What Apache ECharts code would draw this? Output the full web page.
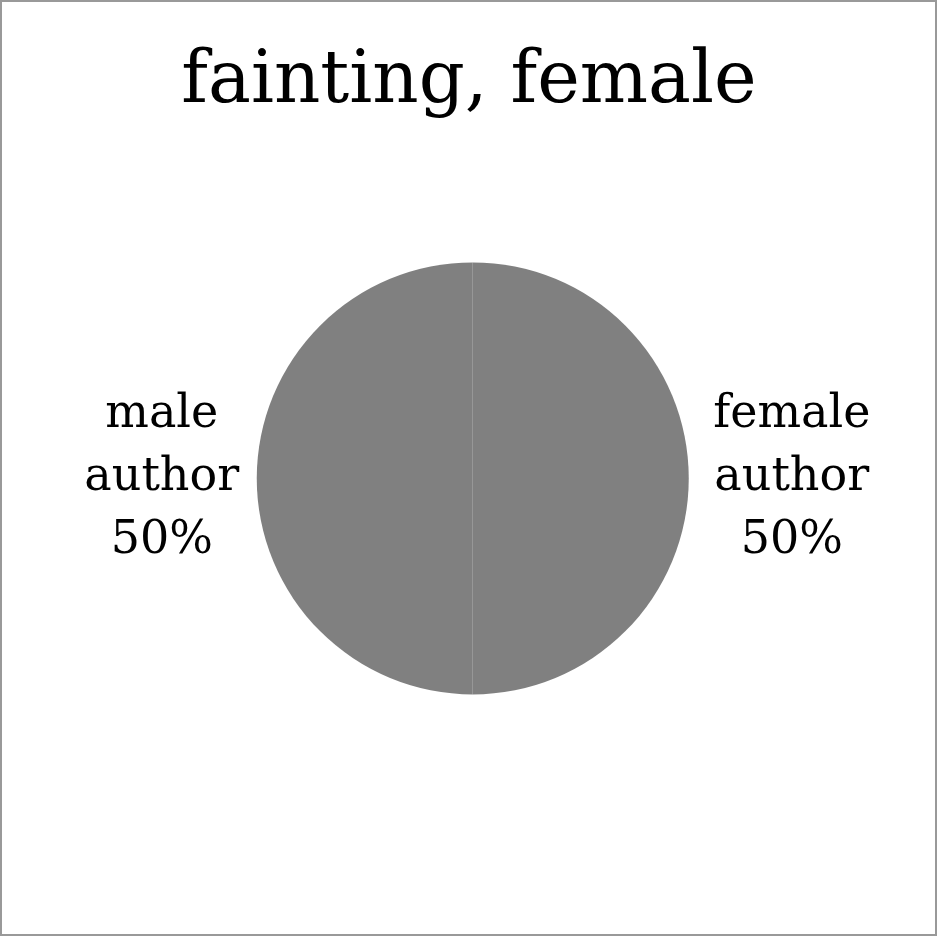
<!DOCTYPE html>
<html><head><meta charset="utf-8">
<script src="https://cdn.jsdelivr.net/npm/echarts@6/dist/echarts.min.js"></script>
<style>html,body{margin:0;padding:0;background:#fff}#c{width:938px;height:938px}</style>
</head><body><div id="c"></div>
<script>
const titleText = 'fainting, female';
const categories = ['female author', 'male author'];
const values = [50, 50];
const colors = ['#808080', '#808080'];
const FONT = 'DejaVu Serif';

const chart = echarts.init(document.getElementById('c'), null, {renderer: 'canvas'});
chart.setOption({
  backgroundColor: '#ffffff',
  animation: false,
  title: {
    text: titleText, left: 'center', top: 42,
    textStyle: {fontFamily: FONT, fontSize: 72, fontWeight: 'normal', color: '#000'}
  },
  graphic: [{
    type: 'rect', shape: {x: 1, y: 1, width: 935, height: 934},
    style: {fill: 'none', stroke: '#999', lineWidth: 2}, silent: true, z: 100
  }],
  series: [{
    type: 'pie',
    center: ['50.4%', '51%'],
    radius: 216,
    startAngle: 90,
    clockwise: true,
    data: categories.map((c, i) => ({
      name: c, value: values[i], itemStyle: {color: colors[i]},
      labelLine: {length: i === 0 ? 20 : 12, length2: 0}
    })),
    label: {
      show: true, position: 'outside',
      formatter: p => '{t|' + p.name.replace(' ', '\n') + '\n' + p.percent + '%}',
      rich: {t: {fontFamily: FONT, fontSize: 46, lineHeight: 63, color: '#000', width: 156, align: 'center'}}
    },
    labelLine: {show: false, length: 12, length2: 0},
    emphasis: {disabled: true}
  }]
});
</script></body></html>
